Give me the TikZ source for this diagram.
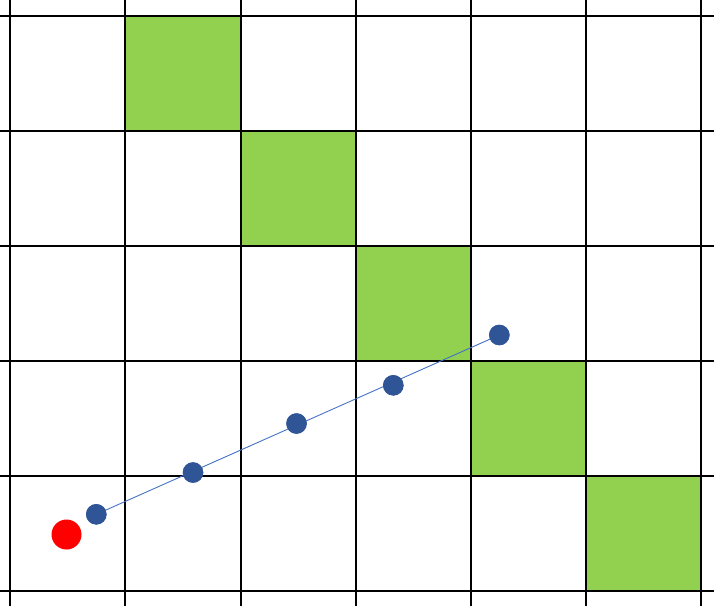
\documentclass[tikz,border=0pt]{standalone}
\definecolor{cellgreen}{HTML}{92D050}
\definecolor{dotblue}{HTML}{2F5597}
\definecolor{lineblue}{HTML}{4472C4}
\begin{document}
\begin{tikzpicture}[x=1pt,y=-1pt,
  cell/.style={fill=cellgreen},
  gridline/.style={black,line width=2pt},
  pt/.style={circle,fill=dotblue,inner sep=0pt,minimum size=20.5pt},
  start/.style={circle,fill=red,inner sep=0pt,minimum size=30pt},
  path/.style={lineblue,line width=0.9pt}]
\useasboundingbox (0,0) rectangle (714,606);
% green cells
\fill[cell] (125,15.5) rectangle (240.5,130.5);
\fill[cell] (240.5,130.5) rectangle (355.5,245.5);
\fill[cell] (355.5,245.5) rectangle (470.5,360.5);
\fill[cell] (470.5,360.5) rectangle (585.5,475.5);
\fill[cell] (585.5,475.5) rectangle (700.5,591);
% grid
\foreach \x in {9.5,125,240.5,355.5,470.5,585.5,700.5}
  \draw[gridline] (\x,0) -- (\x,606);
\foreach \y in {15.5,130.5,245.5,360.5,475.5,591}
  \draw[gridline] (0,\y) -- (714,\y);
% points
\node[start] (s) at (66.5,534.5) {};
\node[pt] (p1) at (96.3,514.3) {};
\node[pt] (p2) at (193,472.5) {};
\node[pt] (p3) at (296.5,423.5) {};
\node[pt] (p4) at (393.3,385.3) {};
\node[pt] (p5) at (499.3,335) {};
\begin{scope}[on background layer/.try]
\end{scope}
\draw[path] (p1.center) -- (p5.center);
\foreach \n in {p1,p2,p3,p4,p5} \node[pt] at (\n) {};
\end{tikzpicture}
\end{document}
